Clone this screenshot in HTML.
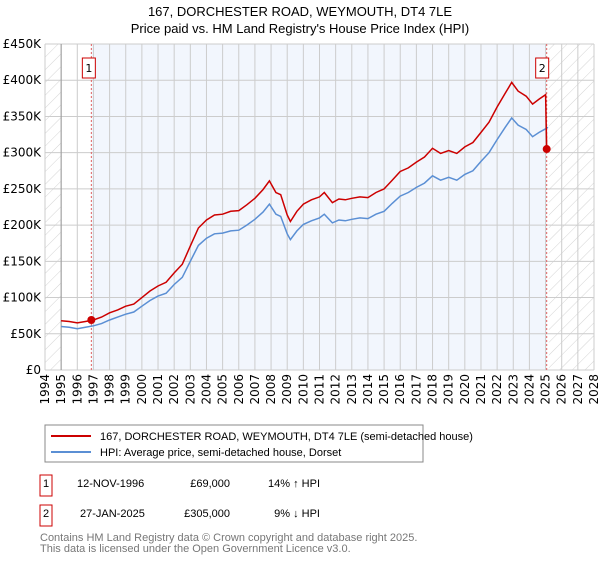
<!DOCTYPE html>
<html><head><meta charset="utf-8"><style>
body{margin:0;width:600px;height:560px;background:#fff;font-family:"Liberation Sans","DejaVu Sans",sans-serif;overflow:hidden}
</style></head><body>
<svg width="600" height="560" viewBox="0 0 600 560" id="svg" font-family="DejaVu Sans, Liberation Sans, sans-serif">
<defs><pattern id="hatch" width="9" height="9" patternUnits="userSpaceOnUse" patternTransform="rotate(45)"><line x1="0" y1="0" x2="0" y2="9" stroke="#d4d4d4" stroke-width="1"/></pattern></defs>
<text x="300" y="16" text-anchor="middle" font-size="13" font-family="Liberation Sans, sans-serif">167, DORCHESTER ROAD, WEYMOUTH, DT4 7LE</text>
<text x="300" y="33" text-anchor="middle" font-size="13" font-family="Liberation Sans, sans-serif">Price paid vs. HM Land Registry's House Price Index (HPI)</text>
<g id="plot"></g>
<g font-family="Liberation Sans, sans-serif">
<rect x="45" y="425" width="378" height="37" fill="#fff" stroke="#888"/>
<line x1="51" y1="436" x2="91" y2="436" stroke="#cc0000" stroke-width="2"/>
<text x="100" y="440" font-size="11">167, DORCHESTER ROAD, WEYMOUTH, DT4 7LE (semi-detached house)</text>
<line x1="51" y1="452" x2="91" y2="452" stroke="#5b8fd4" stroke-width="2"/>
<text x="100" y="456" font-size="11">HPI: Average price, semi-detached house, Dorset</text>
<g font-size="11">
<rect x="40" y="475" width="12" height="21" fill="#fff" stroke="#cc0000"/>
<text x="46" y="487" text-anchor="middle">1</text>
<text x="77" y="487">12-NOV-1996</text><text x="230" y="487" text-anchor="end">£69,000</text><text x="320" y="487" text-anchor="end">14% ↑ HPI</text>
<rect x="40" y="505" width="12" height="21" fill="#fff" stroke="#cc0000"/>
<text x="46" y="517" text-anchor="middle">2</text>
<text x="80" y="517">27-JAN-2025</text><text x="230" y="517" text-anchor="end">£305,000</text><text x="320" y="517" text-anchor="end">9% ↓ HPI</text>
</g>
<text x="40" y="541" font-size="11" fill="#777">Contains HM Land Registry data © Crown copyright and database right 2025.</text>
<text x="40" y="552" font-size="11" fill="#777">This data is licensed under the Open Government Licence v3.0.</text>
</g>
</svg>
<script>
const years=[1995,1995.5,1996,1996.5,1997,1997.5,1998,1998.5,1999,1999.5,2000,2000.5,2001,2001.5,2002,2002.5,2003,2003.5,2004,2004.5,2005,2005.5,2006,2006.5,2007,2007.5,2007.9,2008.3,2008.6,2009,2009.2,2009.6,2010,2010.5,2011,2011.3,2011.8,2012.2,2012.6,2013,2013.5,2014,2014.5,2015,2015.5,2016,2016.5,2017,2017.5,2018,2018.5,2019,2019.5,2020,2020.5,2021,2021.5,2022,2022.5,2022.9,2023.3,2023.8,2024.2,2024.6,2025];
const hpiValues=[60,59,57,59,61,64,69,73,77,80,88,96,102,106,118,128,150,172,182,188,189,192,193,200,208,218,229,215,212,188,180,192,201,206,210,215,203,207,206,208,210,209,215,219,230,240,245,252,258,268,262,266,262,270,275,288,300,318,335,348,338,332,322,328,333];
const priceValues=[68,67,65,67,69,73,79,83,88,91,100,109,116,121,134,146,171,196,207,214,215,219,220,228,237,249,261,245,242,214,205,219,229,235,239,245,231,236,235,237,239,238,245,250,262,274,279,287,294,306,299,303,299,308,314,328,342,363,382,397,385,378,367,374,380];
const saleYears=[1996.87,2025.07];
const saleValues=[69,305];
const yTicks=[0,50,100,150,200,250,300,350,400,450];
const yTickLabels=["£0","£50K","£100K","£150K","£200K","£250K","£300K","£350K","£400K","£450K"];
const xTicks=[1994,1995,1996,1997,1998,1999,2000,2001,2002,2003,2004,2005,2006,2007,2008,2009,2010,2011,2012,2013,2014,2015,2016,2017,2018,2019,2020,2021,2022,2023,2024,2025,2026,2027,2028];

const NS="http://www.w3.org/2000/svg";
const L=45,R=594,T=44,B=370;
const xs=y=>L+(y-1994)/(2028-1994)*(R-L);
const ys=v=>B-v/450*(B-T);
const g=document.getElementById('plot');
function mk(tag,at,parent){const e=document.createElementNS(NS,tag);for(const k in at)e.setAttribute(k,at[k]);(parent||g).appendChild(e);return e;}
const bg=mk('rect',{x:L,y:T,width:R-L,height:B-T,fill:'#fff'});


const sh=mk('rect',{x:xs(saleYears[0]),y:T,width:xs(saleYears[1])-xs(saleYears[0]),height:B-T,fill:'#f2f6fd'});


const h1=mk('rect',{x:L,y:T,width:xs(1995)-L,height:B-T,fill:'url(#hatch)'});


const h2=mk('rect',{x:xs(2025.2),y:T,width:R-xs(2025.2),height:B-T,fill:'url(#hatch)'});


yTicks.forEach((v,i)=>{
  const ln=mk('line',{x1:L,x2:R,y1:ys(v),y2:ys(v),stroke:'#ccc','stroke-width':1});
  
  
  const t=mk('text',{x:L-4,y:ys(v)+4,'text-anchor':'end','font-size':12});
  t.textContent=yTickLabels[i];
  
  
});
xTicks.forEach(y=>{
  const ln=mk('line',{x1:xs(y),x2:xs(y),y1:T,y2:B,stroke:'#ccc','stroke-width':1});
  
  
  const t=mk('text',{x:0,y:0,'text-anchor':'end','font-size':12,transform:`translate(${xs(y)+4},${B+4}) rotate(-90)`});
  t.textContent=y;
  
  
});
const ax=mk('line',{x1:xs(1995),x2:xs(1995),y1:T,y2:B,stroke:'#999','stroke-width':1});


saleYears.forEach((y,i)=>{
  const d=mk('line',{x1:xs(y),x2:xs(y),y1:T,y2:B,stroke:'#e06060','stroke-width':1,'stroke-dasharray':'2,2'});
  
  
});
let hp=years.map((y,i)=>`${xs(y).toFixed(1)},${ys(hpiValues[i]).toFixed(1)}`).join(' ');
hp+=` ${xs(2025.15).toFixed(1)},${ys(hpiValues[hpiValues.length-1]+2).toFixed(1)}`;
const hl=mk('polyline',{points:hp,fill:'none',stroke:'#5b8fd4','stroke-width':1.5});


let pp=years.map((y,i)=>`${xs(y).toFixed(1)},${ys(priceValues[i]).toFixed(1)}`).join(' ');
pp+=` ${xs(saleYears[1]).toFixed(1)},${ys(saleValues[1]).toFixed(1)}`;
const pl=mk('polyline',{points:pp,fill:'none',stroke:'#cc0000','stroke-width':1.5});


saleYears.forEach((y,i)=>{
  const c=mk('circle',{cx:xs(y),cy:ys(saleValues[i]),r:4,fill:'#cc0000'});
  
  
  const bx=xs(y)-(i==0?9:11);
  const r=mk('rect',{x:bx,y:58,width:13,height:20,fill:'#fff',stroke:'#cc0000'});
  
  
  const t=mk('text',{x:bx+6.5,y:72,'text-anchor':'middle','font-size':11});
  t.textContent=String(i+1);
  
  
});
</script>
</body></html>
